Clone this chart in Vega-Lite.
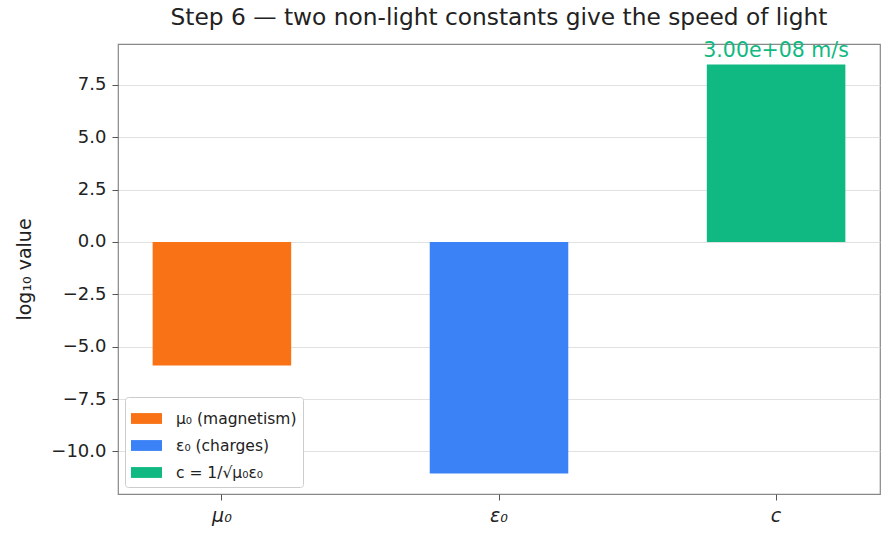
{
  "$schema": "https://vega.github.io/schema/vega-lite/v6.json",
  "autosize": {"type": "none"},
  "padding": {"left": 118, "top": 44, "right": 11, "bottom": 49},
  "width": 762,
  "height": 450,
  "background": "white",
  "title": {
    "text": "Step 6 — two non-light constants give the speed of light",
    "font": "DejaVu Sans",
    "fontSize": 23.3,
    "fontWeight": "normal",
    "color": "#222",
    "offset": 11,
    "anchor": "middle"
  },
  "config": {
    "font": "DejaVu Sans",
    "view": {"stroke": "#888", "strokeWidth": 1.2},
    "axis": {"domain": false, "tickColor": "#555", "tickSize": 6, "labelColor": "#222", "labelFont": "DejaVu Sans", "titleFont": "DejaVu Sans", "titleFontWeight": "normal", "titleColor": "#222"}
  },
  "data": {
    "values": [
      {"name": "μ₀", "value": -5.9008, "series": "μ₀ (magnetism)", "label": ""},
      {"name": "ε₀", "value": -11.0528, "series": "ε₀ (charges)", "label": ""},
      {"name": "c", "value": 8.4768, "series": "c = 1/√μ₀ε₀", "label": "3.00e+08 m/s"}
    ]
  },
  "encoding": {
    "x": {
      "field": "name",
      "type": "nominal",
      "sort": null,
      "scale": {"paddingInner": 0.5, "paddingOuter": 0.125},
      "axis": {"title": null, "labelAngle": 0, "labelFontSize": 19, "labelFontStyle": "italic", "labelPadding": 6, "grid": false}
    },
    "y": {
      "field": "value",
      "type": "quantitative",
      "scale": {"domain": [-12.03, 9.45], "nice": false, "zero": false},
      "axis": {"title": "log₁₀ value", "titleFontSize": 19, "titlePadding": 16, "labelFontSize": 18, "format": ".1f", "values": [-10, -7.5, -5, -2.5, 0, 2.5, 5, 7.5], "grid": true, "gridColor": "#d9d9d9", "gridWidth": 0.8, "labelPadding": 6}
    }
  },
  "layer": [
    {
      "mark": {"type": "bar"},
      "encoding": {
        "color": {
          "field": "series",
          "type": "nominal",
          "scale": {"domain": ["μ₀ (magnetism)", "ε₀ (charges)", "c = 1/√μ₀ε₀"], "range": ["#f97316", "#3b82f6", "#10b981"]},
          "legend": {
            "title": null,
            "orient": "bottom-left",
            "offset": 7,
            "fillColor": "white",
            "strokeColor": "#ccc",
            "cornerRadius": 3,
            "padding": 6,
            "labelFontSize": 15.5,
            "labelFont": "DejaVu Sans",
            "labelColor": "#222",
            "symbolType": "M-1,-0.35L1,-0.35L1,0.35L-1,0.35Z",
            "symbolSize": 960,
            "symbolStrokeWidth": 0,
            "symbolOpacity": 1,
            "rowPadding": 3,
            "labelOffset": 14,
            "labelLimit": 300
          }
        }
      }
    },
    {
      "transform": [{"filter": "datum.label != ''"}],
      "mark": {"type": "text", "baseline": "bottom", "dy": -3, "fontSize": 20.5, "color": "#10b981", "font": "DejaVu Sans"},
      "encoding": {"text": {"field": "label"}}
    }
  ]
}
